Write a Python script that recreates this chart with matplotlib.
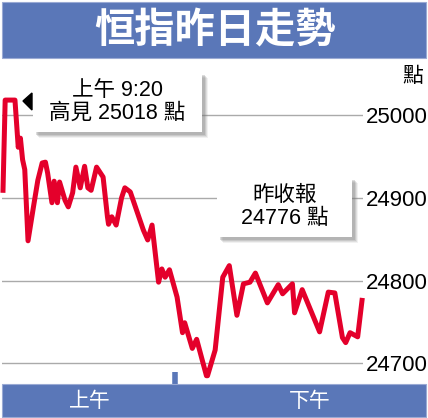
import matplotlib.pyplot as plt
from matplotlib.patches import Rectangle, Polygon

# minutes into the trading day and Hang Seng index level
minutes = [0, 2, 11, 14, 16, 18, 20, 23, 28, 32, 36, 39, 41, 45, 47, 50, 52, 57,
           60, 64, 67, 71, 75, 78, 81, 86, 92, 96, 97, 100, 104, 109, 112, 117,
           129, 133, 137, 143, 146, 149, 153, 160, 165, 167, 174, 178, 187, 188,
           195, 202, 208, 215, 221, 227, 232, 243, 253, 257, 266, 268, 275, 291,
           299, 305, 312, 315, 319, 326, 330]
hsi = [24909, 25018, 25018, 24961, 24972, 24946, 24934, 24848, 24889, 24921,
       24942, 24943, 24930, 24894, 24920, 24894, 24919, 24897, 24889, 24906,
       24937, 24912, 24938, 24912, 24909, 24937, 24925, 24877, 24868, 24877,
       24867, 24900, 24912, 24907, 24861, 24849, 24867, 24798, 24814, 24804,
       24813, 24780, 24737, 24749, 24718, 24729, 24685, 24685, 24716, 24804,
       24818, 24758, 24796, 24798, 24809, 24773, 24795, 24784, 24796, 24761,
       24789, 24738, 24786, 24785, 24731, 24725, 24737, 24732, 24776]
yticks = [24700, 24800, 24900, 25000]
noon_tick = 158

title = "恒指昨日走勢"
high_note = "上午 9:20\n高見 25018 點"
close_note = "昨收報\n24776 點"
session_labels = ["上午", "下午"]

W, H = 428, 418
BLUE = "#5a77b8"
RED = "#e4002b"
FONTS = ["Liberation Sans", "Noto Sans CJK TC", "DejaVu Sans"]
plt.rcParams["font.family"] = FONTS

fig = plt.figure(figsize=(W / 100, H / 100), dpi=100)


def fx(x):
    return x / W


def fy(y):
    return 1 - y / H


def box(x0, y0, x1, y1, **kw):
    fig.add_artist(Rectangle((fx(x0), fy(y1)), fx(x1) - fx(x0), fy(y0) - fy(y1),
                             transform=fig.transFigure, **kw))


# title bar and bottom bar
box(2, 2, 426, 58, facecolor=BLUE, edgecolor="#9aaad4", lw=0.8)
fig.text(fx(215), fy(31), title, color="white", fontsize=29, fontweight="bold",
         ha="center", va="center", family=["Noto Sans CJK TC"])
box(2, 384, 426, 417, facecolor=BLUE, edgecolor="#9aaad4", lw=0.8)
fig.text(fx(90), fy(401), session_labels[0], color="white", fontsize=15,
         ha="center", va="center")
fig.text(fx(310), fy(401), session_labels[1], color="white", fontsize=15,
         ha="center", va="center")

ax = fig.add_axes([fx(2), fy(384), fx(363) - fx(2), fy(62) - fy(384)])
ax.set_xlim(-0.92, 330.9)
ax.set_ylim(24675, 25064)
for s in ax.spines.values():
    s.set_visible(False)
ax.set_xticks([])
ax.set_yticks(yticks)
ax.set_yticklabels([str(v) for v in yticks], fontsize=16)
ax.yaxis.tick_right()
ax.tick_params(axis="y", length=0, pad=2)
ax.grid(axis="y", color="#aaaaaa", lw=1.0)
ax.set_axisbelow(True)
ax.patch.set_alpha(0)

ax.plot(minutes, hsi, color=RED, lw=3.6, solid_joinstyle="round", clip_on=False, zorder=3)

# noon tick
ax.plot([noon_tick, noon_tick], [24675, 24689], color=BLUE, lw=4,
        solid_capstyle="butt", clip_on=False)

fig.text(fx(413), fy(76), "點", fontsize=15, ha="center", va="center")


def note(x0, y0, x1, y1, text):
    for i, a in enumerate([0.10, 0.15, 0.2, 0.25]):
        d = 6 - i
        box(x0 + d, y0 + d, x1 + d, y1 + d, facecolor="#777777", edgecolor="none",
            alpha=a, zorder=4)
    box(x0, y0, x1, y1, facecolor="white", edgecolor="none", zorder=5)
    fig.text(fx((x0 + x1) / 2), fy((y0 + y1) / 2), text, fontsize=15.5,
             ha="center", va="center", linespacing=1.15, zorder=6)


note(33, 72, 202, 132, high_note)
note(217, 177, 352, 237, close_note)

fig.add_artist(Polygon([(fx(23), fy(101)), (fx(32), fy(93)), (fx(32), fy(110))],
                       closed=True, color="black", transform=fig.transFigure))

fig.savefig("out.png", dpi=100)
